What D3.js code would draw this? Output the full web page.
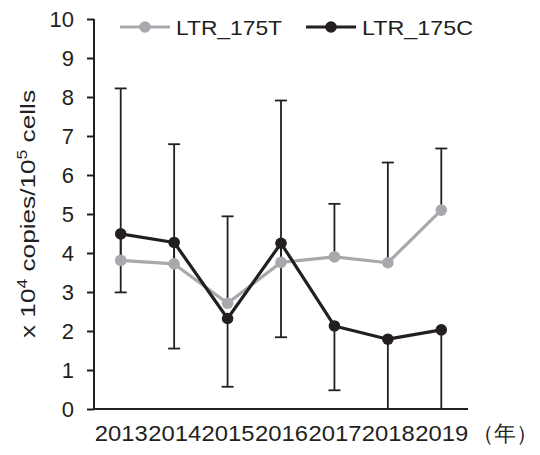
<!DOCTYPE html>
<html>
<head>
<meta charset="utf-8">
<script src="https://cdn.jsdelivr.net/npm/d3@7"></script>
<style>
  html, body { margin: 0; padding: 0; background: #fff; }
  svg { display: block; }
  text { font-family: "Liberation Sans", Arial, sans-serif; fill: #231f20; }
</style>
</head>
<body>
<svg id="chart" width="540" height="455"></svg>
<script>
// Years on the x axis
const years = ["2013", "2014", "2015", "2016", "2017", "2018", "2019"];
// Mean values (x 10^4 copies / 10^5 cells)
const ltr175T = [3.81, 3.72, 2.71, 3.76, 3.90, 3.75, 5.10];
const ltr175C = [4.49, 4.27, 2.32, 4.25, 2.13, 1.79, 2.03];
// Error bars: upper for LTR_175T, lower for LTR_175C
const ltr175TErrPlus = [4.41, 3.07, 2.23, 4.15, 1.36, 2.57, 1.58];
const ltr175CErrMinus = [1.50, 2.72, 1.75, 2.41, 1.65, 2.20, 2.40];
// Y axis ticks
const yTicks = [0, 1, 2, 3, 4, 5, 6, 7, 8, 9, 10];
const seriesNames = ["LTR_175T", "LTR_175C"];
const unitLabel = "（年）";

const ink = "#231f20";
const grey = "#a7a9ac";

const svg = d3.select("#chart");
const x = d3.scalePoint().domain(years).range([94, 468]).padding(0.5);
const y = d3.scaleLinear().domain([0, 10]).range([409, 19]);

// Y axis
const yAxis = svg.append("g").attr("transform", "translate(94,0)")
  .call(d3.axisLeft(y).tickValues(yTicks).tickSize(7).tickPadding(13).tickFormat(d3.format("d")));
yAxis.select(".domain").attr("stroke", ink).attr("stroke-width", 2).attr("d", "M0,19V409");
yAxis.selectAll(".tick line").attr("stroke", ink).attr("stroke-width", 2);
yAxis.selectAll(".tick text").attr("font-size", 22).attr("fill", ink)
  .attr("font-family", "Liberation Sans, Arial, sans-serif").attr("dy", "0.36em");

// X axis (no tick marks)
const xAxis = svg.append("g").attr("transform", "translate(0,409)")
  .call(d3.axisBottom(x).tickSize(0).tickPadding(0));
xAxis.select(".domain").attr("stroke", ink).attr("stroke-width", 2).attr("d", "M94,0H468");
xAxis.selectAll(".tick text").attr("font-size", 21.5).attr("fill", ink)
  .attr("font-family", "Liberation Sans, Arial, sans-serif")
  .attr("y", 32).attr("dy", 0)
  .attr("textLength", 53).attr("lengthAdjust", "spacingAndGlyphs");

svg.append("text").attr("x", 472).attr("y", 441).attr("font-size", 22)
  .attr("font-family", "Noto Sans CJK JP, sans-serif").text(unitLabel);

// Y axis title
const title = svg.append("text")
  .attr("transform", "translate(35,214) rotate(-90)")
  .attr("text-anchor", "middle").attr("font-size", 21)
  .attr("textLength", 248).attr("lengthAdjust", "spacingAndGlyphs");
title.append("tspan").text("x 10");
title.append("tspan").attr("dy", -8).attr("font-size", 14).text("4");
title.append("tspan").attr("dy", 8).text(" copies/10");
title.append("tspan").attr("dy", -8).attr("font-size", 14).text("5");
title.append("tspan").attr("dy", 8).text(" cells");

// Error bars
const capW = 6;
const errG = svg.append("g").attr("stroke", ink).attr("stroke-width", 1.8).attr("fill", "none");
years.forEach((yr, i) => {
  const cx = x(yr);
  const top = ltr175T[i] + ltr175TErrPlus[i];
  errG.append("line").attr("x1", cx).attr("x2", cx).attr("y1", y(ltr175T[i])).attr("y2", y(top));
  errG.append("line").attr("x1", cx - capW).attr("x2", cx + capW).attr("y1", y(top)).attr("y2", y(top));
  const low = Math.max(0, ltr175C[i] - ltr175CErrMinus[i]);
  errG.append("line").attr("x1", cx).attr("x2", cx).attr("y1", y(ltr175C[i])).attr("y2", y(low));
  if (low > 0) {
    errG.append("line").attr("x1", cx - capW).attr("x2", cx + capW).attr("y1", y(low)).attr("y2", y(low));
  }
});

// Series lines and markers
const line = d3.line().x((d, i) => x(years[i])).y(d => y(d));
[[ltr175T, grey], [ltr175C, ink]].forEach(([vals, col]) => {
  svg.append("path").datum(vals).attr("d", line).attr("fill", "none")
    .attr("stroke", col).attr("stroke-width", 3.2).attr("stroke-linejoin", "round");
  svg.append("g").selectAll("circle").data(vals).join("circle")
    .attr("cx", (d, i) => x(years[i])).attr("cy", d => y(d)).attr("r", 5.8).attr("fill", col);
});

// Legend
const legend = [
  { name: seriesNames[0], col: grey, x1: 120, x2: 170, tx: 176, tw: 106 },
  { name: seriesNames[1], col: ink, x1: 306, x2: 356, tx: 362, tw: 111 }
];
legend.forEach(l => {
  svg.append("line").attr("x1", l.x1).attr("x2", l.x2).attr("y1", 27).attr("y2", 27)
    .attr("stroke", l.col).attr("stroke-width", 3.2);
  svg.append("circle").attr("cx", (l.x1 + l.x2) / 2).attr("cy", 27).attr("r", 5.8).attr("fill", l.col);
  svg.append("text").attr("x", l.tx).attr("y", 35).attr("font-size", 21)
    .attr("textLength", l.tw).attr("lengthAdjust", "spacingAndGlyphs").text(l.name);
});
</script>
</body>
</html>
